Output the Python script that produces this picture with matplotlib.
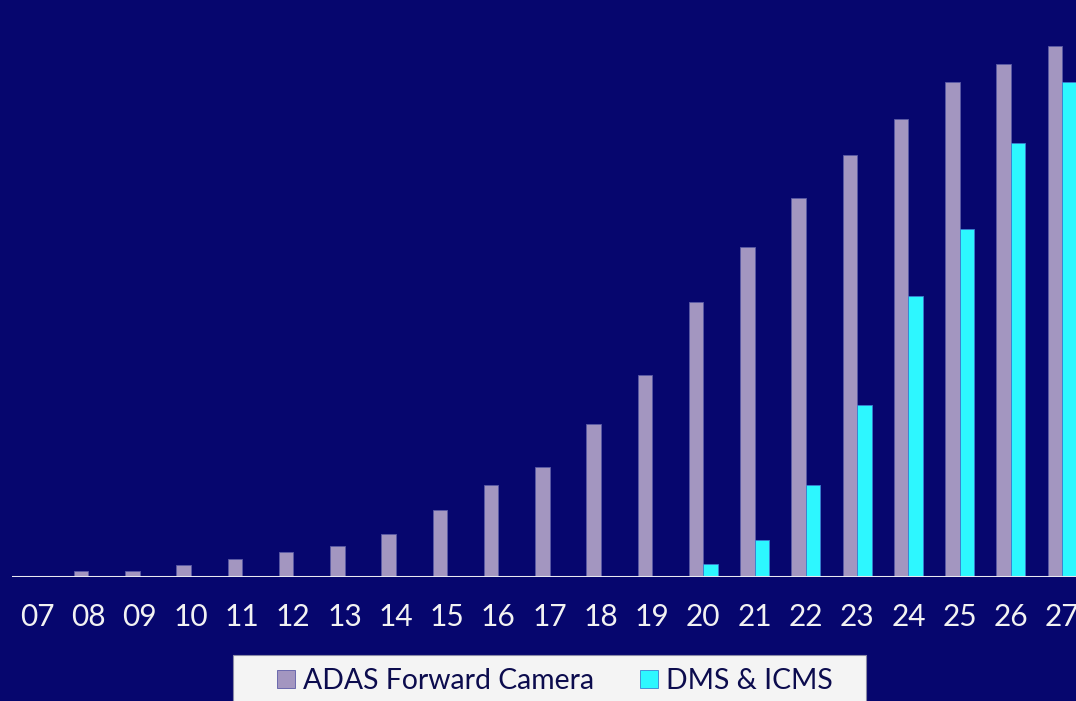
import matplotlib
matplotlib.use("Agg")
import matplotlib.pyplot as plt
from matplotlib.patches import Rectangle
import numpy as np

years = ["07", "08", "09", "10", "11", "12", "13", "14", "15", "16", "17",
         "18", "19", "20", "21", "22", "23", "24", "25", "26", "27"]
adas_forward_camera = [0, 6, 6, 12, 18, 25, 31, 43, 67, 92, 110,
                       153, 202, 275, 330, 379, 422, 458, 495, 513, 531]
dms_icms = [0, 0, 0, 0, 0, 0, 0, 0, 0, 0, 0,
            0, 0, 13, 37, 92, 172, 281, 348, 434, 495]

BG = "#06066E"
LAV = "#A396C0"
CYAN = "#2DF7FF"

plt.rcParams["font.family"] = ["Lato", "DejaVu Sans"]

W, H = 1076, 701
fig = plt.figure(figsize=(W / 100, H / 100), dpi=100, facecolor=BG)
ax = fig.add_axes([12 / W, (H - 577) / H, (W - 12) / W, 577 / H])
ax.set_facecolor(BG)

x = np.arange(len(years))
bw = 0.283
ax.bar(x - bw / 2, adas_forward_camera, width=bw, color=LAV,
       edgecolor="#5b5aa6", linewidth=0.6, label="ADAS Forward Camera")
ax.bar(x + bw / 2, dms_icms, width=bw, color=CYAN,
       edgecolor="#3b7fd0", linewidth=0.6, label="DMS & ICMS")

ax.axhline(0, color="#E8E8F0", linewidth=2.2, zorder=5)

ax.set_xlim(-0.488, 20.27)
ax.set_ylim(0, 577)
ax.set_yticks([])
ax.set_xticks(x)
ax.set_xticklabels(years, fontsize=21.5, color="#F2F2F2")
ax.tick_params(axis="x", length=0, pad=19)
for s in ax.spines.values():
    s.set_visible(False)

# legend panel at the bottom
fig.patches.append(Rectangle((233 / W, -0.02), (866 - 233) / W, (H - 655) / H + 0.02,
                             transform=fig.transFigure, facecolor="#F4F4F4",
                             edgecolor="#8a8aa8", linewidth=0.8, zorder=1))
handles, labels = ax.get_legend_handles_labels()
leg = fig.legend(handles, labels, loc="center", bbox_to_anchor=(555 / W, (H - 681) / H),
                 ncol=2, frameon=False, fontsize=20.4, handlelength=0.64, handleheight=0.64,
                 handletextpad=0.3, columnspacing=1.6, labelcolor="#0C0C4E",
                 borderpad=0, borderaxespad=0)
leg.set_zorder(3)

fig.savefig("out.png", dpi=100, facecolor=BG)
